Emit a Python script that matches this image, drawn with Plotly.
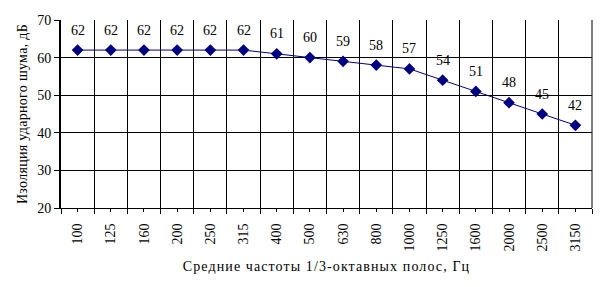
import plotly.graph_objects as go

categories = ["100", "125", "160", "200", "250", "315", "400", "500", "630",
              "800", "1000", "1250", "1600", "2000", "2500", "3150"]
values = [62, 62, 62, 62, 62, 62, 61, 60, 59, 58, 57, 54, 51, 48, 45, 42]
y_ticks = [20, 30, 40, 50, 60, 70]

x_idx = list(range(len(categories)))
navy = "#000080"
font_family = "Liberation Serif, Times New Roman, serif"

fig = go.Figure()
fig.add_trace(go.Scatter(
    x=x_idx, y=values, mode="lines+markers",
    line=dict(color=navy, width=1),
    marker=dict(symbol="diamond", size=9, color=navy),
    hoverinfo="skip", showlegend=False,
))

for xi, v in zip(x_idx, values):
    fig.add_annotation(x=xi, y=v, text=str(v), showarrow=False, yshift=20,
                       font=dict(family=font_family, size=14, color="black"))

fig.update_layout(
    width=612, height=287,
    margin=dict(l=61, r=20, t=20, b=79),
    paper_bgcolor="white", plot_bgcolor="white",
    font=dict(family=font_family, size=14, color="black"),
    xaxis=dict(
        range=[-0.5, len(categories) - 0.5],
        tickmode="array", tickvals=x_idx, ticktext=categories,
        tickangle=-90, ticks="outside", ticklen=3, tickcolor="black",
        ticklabelstandoff=6,
        showgrid=False, zeroline=False,
        showline=True, linecolor="black", linewidth=1,
        minor=dict(tick0=0.5, dtick=1, showgrid=True, gridcolor="black",
                   gridwidth=1, ticks="outside", ticklen=5, tickcolor="black"),
        title=dict(text='<span style="letter-spacing:1.1px">Средние частоты 1/3-октавных полос, Гц</span>',
                   font=dict(size=14), standoff=10),
        fixedrange=True,
    ),
    yaxis=dict(
        range=[20, 70], tickvals=y_ticks,
        ticks="outside", ticklen=5, tickcolor="black",
        showgrid=True, gridcolor="black", gridwidth=1,
        zeroline=False, showline=True, linecolor="black", linewidth=2,
        title=dict(text='<span style="letter-spacing:0.3px">Изоляция ударного шума, дБ</span>',
                   font=dict(size=14), standoff=6),
        fixedrange=True,
    ),
)

fig.add_shape(type="line", xref="paper", yref="paper", x0=1, x1=1, y0=0, y1=1,
              line=dict(color="black", width=1))

fig.write_html("out.html")
